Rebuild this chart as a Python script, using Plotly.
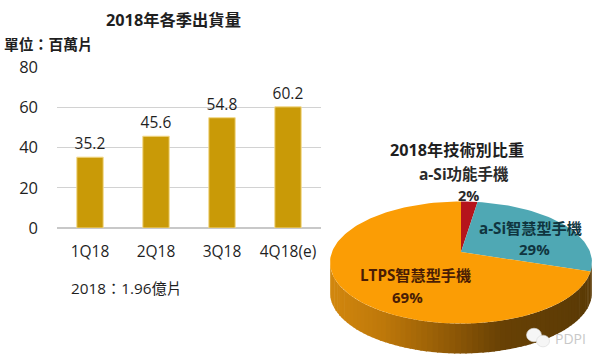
import math
import plotly.graph_objects as go

W, H = 605, 364
quarters = ["1Q18", "2Q18", "3Q18", "4Q18(e)"]
shipments = [35.2, 45.6, 54.8, 60.2]
y_ticks = [0, 20, 40, 60, 80]
tech_labels = ["a-Si功能手機", "a-Si智慧型手機", "LTPS智慧型手機"]
tech_shares = [2, 29, 69]
tech_colors = ["#b5141c", "#4fa8b4", "#fb9d05"]

FONT = "Open Sans, Noto Sans CJK TC, sans-serif"
TEXT = "#1f1f1f"

PLOT_L, PLOT_R, PLOT_T, PLOT_B = 57, 321, 66.2, 228
Y_MAX = 80.4
CX, CY, RX, RY, APEX_Y, APEX_RY, DEPTH = 461, 262.5, 131, 61, 252, 50, 30


def px(v):
    return v / W


def py(v):
    return 1 - v / H


def rim(theta_deg, drop=0):
    t = math.radians(theta_deg)
    return CX + RX * math.sin(t), CY - RY * math.cos(t) + drop


def ray_rim(theta_deg):
    """Where the ray from the off-centre apex at this share angle meets the ellipse."""
    t = math.radians(theta_deg)
    dx, dy = RX * math.sin(t), -APEX_RY * math.cos(t)
    off = APEX_Y - CY
    qa = (dx / RX) ** 2 + (dy / RY) ** 2
    qb = 2 * dy * off / RY ** 2
    qc = (off / RY) ** 2 - 1
    s = (-qb + math.sqrt(qb * qb - 4 * qa * qc)) / (2 * qa)
    return CX + dx * s, APEX_Y + dy * s


def mix(a, b, f):
    return tuple(round(a[i] + (b[i] - a[i]) * f) for i in range(3))


fig = go.Figure()

fig.add_trace(go.Bar(
    x=quarters, y=shipments, width=0.4, xaxis="x", yaxis="y",
    marker=dict(color="#c99a07", line=dict(color="#f3d98a", width=1)),
    text=[f"{v:.1f}" for v in shipments], textposition="outside", cliponaxis=False,
    constraintext="none", textfont=dict(family=FONT, size=15.5, color=TEXT), hoverinfo="skip",
))

stops = [(0.0, (90, 58, 5)), (0.35, (104, 65, 5)), (0.55, (145, 90, 6)), (0.8, (190, 120, 10)), (1.0, (210, 135, 14))]


def side_color(f):
    for (f0, c0), (f1, c1) in zip(stops, stops[1:]):
        if f <= f1:
            return "rgb(%d,%d,%d)" % mix(c0, c1, (f - f0) / (f1 - f0))
    return "rgb(%d,%d,%d)" % stops[-1][1]


STEP = 2.5
a = 90.0
while a < 270:
    b = min(a + STEP + 0.6, 270)
    x0, y0 = rim(a)
    x1, y1 = rim(b)
    x2, y2 = rim(b, DEPTH)
    x3, y3 = rim(a, DEPTH)
    fig.add_trace(go.Scatter(
        x=[x0, x1, x2, x3, x0], y=[y0, y1, y2, y3, y0], mode="lines", fill="toself",
        fillcolor=side_color((CX + RX - (x0 + x1) / 2) / (2 * RX)), line=dict(width=0),
        xaxis="x2", yaxis="y2", hoverinfo="skip",
    ))
    a += STEP

start = 0.0
total = sum(tech_shares)
for share, color in zip(tech_shares, tech_colors):
    end = start + 360 * share / total
    n = max(4, int((end - start) / 2))
    pts = [ray_rim(start + (end - start) * i / n) for i in range(n + 1)]
    xs = [CX] + [p[0] for p in pts] + [CX]
    ys = [APEX_Y] + [p[1] for p in pts] + [APEX_Y]
    fig.add_trace(go.Scatter(
        x=xs, y=ys, mode="lines", fill="toself", fillcolor=color, line=dict(width=0),
        xaxis="x2", yaxis="y2", hoverinfo="skip",
    ))
    start = end


def note(x, y, text, size, color=TEXT, bold=False, anchor="center"):
    fig.add_annotation(
        x=px(x), y=py(y), xref="paper", yref="paper", text=f"<b>{text}</b>" if bold else text,
        showarrow=False, xanchor=anchor, yanchor="middle",
        font=dict(family=FONT, size=size, color=color),
    )


note(173, 20, "2018年各季出貨量", 16.3, bold=True)
note(2, 44, "單位：百萬片", 14.8, bold=True, anchor="left")
note(69, 288, "2018：1.96億片", 15.3, anchor="left")
note(457, 150, "2018年技術別比重", 16.2, bold=True)
note(464, 174, tech_labels[0], 15.5, color="#2a2a2a", bold=True)
note(468, 195, f"{tech_shares[0]}%", 14.5, color="#2a2a2a", bold=True)
note(530, 228, tech_labels[1], 15.2, color="#10353f", bold=True)
note(534, 249, f"{tech_shares[1]}%", 15, color="#10353f", bold=True)
note(415, 275, tech_labels[2], 15.2, color="#4a1d05", bold=True)
note(408, 297, f"{tech_shares[2]}%", 15, color="#4a1d05", bold=True)
note(570, 338, "PDPI", 14, color="#c8c8c8")


def bubble(x, y, r):
    fig.add_shape(type="circle", xref="paper", yref="paper",
                  x0=px(x - r), x1=px(x + r), y0=py(y + r * 0.9), y1=py(y - r * 0.9),
                  fillcolor="#f6f6f6", line=dict(color="#d8d8d8", width=0.6))


bubble(534, 335, 7.5)
bubble(543, 341, 6.5)

fig.update_layout(
    width=W, height=H, autosize=False, margin=dict(l=0, r=0, t=0, b=0),
    paper_bgcolor="white", plot_bgcolor="rgba(0,0,0,0)", showlegend=False,
    xaxis=dict(domain=[px(PLOT_L), px(PLOT_R)], type="category", showgrid=False, ticks="",
               showline=False, zeroline=False, anchor="y", automargin=False, ticklabelstandoff=12,
               tickfont=dict(family=FONT, size=15.5, color=TEXT)),
    yaxis=dict(domain=[py(PLOT_B), py(PLOT_T)], range=[0, Y_MAX], tickvals=y_ticks, showgrid=True,
               gridcolor="#d2d2d2", gridwidth=1, zeroline=True, zerolinecolor="#c8c8c8",
               showline=False, ticks="", anchor="x", automargin=False, ticklabelstandoff=18,
               tickfont=dict(family=FONT, size=16.5, color=TEXT)),
    xaxis2=dict(domain=[0, 1], range=[0, W], visible=False, anchor="y2", automargin=False),
    yaxis2=dict(domain=[0, 1], range=[H, 0], visible=False, anchor="x2", automargin=False),
)
fig.write_html("out.html", config=dict(displayModeBar=False),
               post_script="document.body.style.margin='0';")
